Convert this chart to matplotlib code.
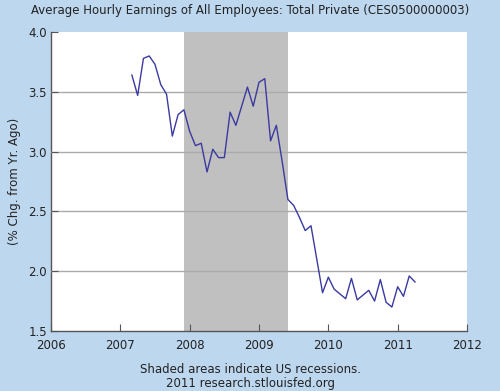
import matplotlib
matplotlib.use('Agg')
import matplotlib.pyplot as plt
import numpy as np
import pandas as pd

plt.rcParams['font.family'] = 'DejaVu Sans'

# monthly YoY % change, Mar 2007 .. Apr 2011
start_month = '2007-03'
values = [3.64, 3.47, 3.78, 3.80, 3.73, 3.56, 3.48, 3.13, 3.31, 3.35,
          3.17, 3.05, 3.07, 2.83, 3.02, 2.95, 2.95, 3.33, 3.22, 3.38, 3.54, 3.38,
          3.58, 3.61, 3.09, 3.22, 2.92, 2.60, 2.55, 2.45, 2.34, 2.38, 2.10, 1.82,
          1.95, 1.85, 1.81, 1.77, 1.94, 1.76, 1.80, 1.84, 1.75, 1.93, 1.74, 1.70,
          1.87, 1.79, 1.96, 1.91]
recession = (2007 + 11/12, 2009 + 5/12)
xticks = [2006, 2007, 2008, 2009, 2010, 2011, 2012]
yticks = [1.5, 2.0, 2.5, 3.0, 3.5, 4.0]

dates = pd.period_range(start_month, periods=len(values), freq='M')
x = dates.year + (dates.month - 1) / 12.0

bg = '#bdd7ef'
fig = plt.figure(figsize=(5, 3.91), dpi=100, facecolor=bg)
ax = fig.add_axes([0.102, 0.1535, 0.832, 0.7645])
ax.set_facecolor('white')

ax.axvspan(recession[0], recession[1], color='#c0c0c0', lw=0, zorder=1)
ax.plot(x, values, color='#3a3aa0', lw=1.0, zorder=3)

ax.set_xlim(2006, 2012)
ax.set_ylim(1.5, 4.0)
ax.set_xticks(xticks)
ax.set_yticks(yticks)
ax.set_yticklabels(['%.1f' % v for v in yticks])
ax.tick_params(axis='both', direction='in', length=5, color='#555555',
               labelsize=8.5, labelcolor='#222222')
ax.tick_params(axis='x', pad=6)
ax.tick_params(axis='y', pad=3)

ax.yaxis.grid(True, color='#aaaaaa', lw=1.0, zorder=2)
gl = ax.yaxis.get_gridlines()
gl[0].set_visible(False)
gl[-1].set_visible(False)
ax.set_axisbelow(False)

for s in ['top', 'right']:
    ax.spines[s].set_visible(False)
for s in ['left', 'bottom']:
    ax.spines[s].set_color('#555555')
    ax.spines[s].set_linewidth(1.0)

ax.set_ylabel('(% Chg. from Yr. Ago)', fontsize=8.5, color='#222222', labelpad=5)
fig.text(0.5, 0.974, 'Average Hourly Earnings of All Employees: Total Private (CES0500000003)',
         ha='center', va='center', fontsize=8.5, color='#222222')
fig.text(0.5, 0.054, 'Shaded areas indicate US recessions.', ha='center', va='center',
         fontsize=8.5, color='#222222')
fig.text(0.5, 0.02, '2011 research.stlouisfed.org', ha='center', va='center',
         fontsize=8.5, color='#222222')

fig.savefig('out.png', dpi=100, facecolor=bg)
